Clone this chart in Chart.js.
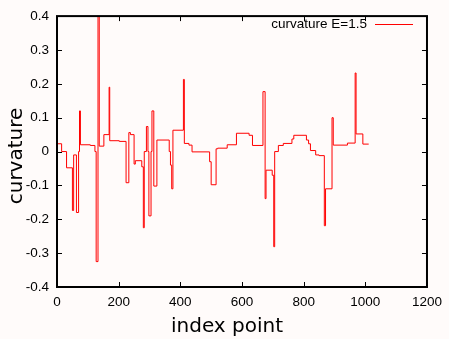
<!DOCTYPE html>
<html>
<head>
<meta charset="utf-8">
<script src="https://cdn.jsdelivr.net/npm/chart.js@4.4.0/dist/chart.umd.min.js"></script>
<style>
  html, body { margin: 0; padding: 0; background: #fffbfa; }
  #c { display: block; }
</style>
</head>
<body>
<canvas id="c" width="449" height="339"></canvas>
<script>
// step starts (index point) and the curvature level held from there
const indexPoints = [0, 15, 31, 50, 54, 63, 70, 73, 76, 108, 123, 127, 133, 137, 152, 169, 171, 202, 224, 233,
  238, 250, 254, 275, 280, 283, 290, 295, 298, 305, 308, 314, 324, 364, 368, 372, 376, 410, 413, 428,
  438, 495, 500, 516, 521, 552, 582, 623, 634, 668, 675, 678, 698, 703, 706, 718, 734, 762, 768, 809,
  816, 822, 839, 850, 867, 871, 892, 896, 942, 967, 970, 992, 1011];
const curvature = [0.023, 0, -0.048, -0.174, -0.01, -0.18, 0, 0.12, 0.02, 0.018, 0, -0.325, 0.45, 0.016, 0.05, 0.19, 0.032, 0.03, -0.092, 0.056,
  0.05, -0.037, -0.027, -0.045, -0.225, 0, 0.074, 0, -0.19, 0, 0.12, -0.102, 0.034, 0, -0.04, -0.11, 0.063, 0.213, 0.024, 0.019,
  -0.001, -0.03, -0.098, 0.008, 0.01, 0.02, 0.054, 0.048, 0.018, 0.177, -0.139, -0.055, -0.07, -0.281, 0, 0.018, 0.024, 0.037, 0.048, 0.034,
  0.023, 0.003, -0.01, -0.012, -0.219, -0.11, 0.1, 0.019, 0.025, 0.232, 0.052, 0.022, 0.022];
const xTicks = [0, 200, 400, 600, 800, 1000, 1200];
const yTicks = [-0.4, -0.3, -0.2, -0.1, 0, 0.1, 0.2, 0.3, 0.4];
const seriesLabel = 'curvature E=1.5';

const tickFont = '13.5px "Liberation Sans", Arial, sans-serif';

const frame = {
  id: 'frame',
  beforeDraw(chart) {
    const ctx = chart.ctx;
    ctx.save();
    ctx.fillStyle = '#fffbfa';
    ctx.fillRect(0, 0, chart.width, chart.height);
    ctx.restore();
  },
  afterDraw(chart) {
    const ctx = chart.ctx;
    const a = chart.chartArea;
    const xs = chart.scales.x, ys = chart.scales.y;
    ctx.save();
    ctx.strokeStyle = '#000';
    ctx.lineWidth = 1;
    ctx.beginPath();
    xTicks.forEach(v => {
      const px = Math.round(xs.getPixelForValue(v)) + 0.5;
      ctx.moveTo(px, a.bottom); ctx.lineTo(px, a.bottom - 5);
      ctx.moveTo(px, a.top); ctx.lineTo(px, a.top + 5);
    });
    yTicks.forEach(v => {
      const py = Math.round(ys.getPixelForValue(v)) + 0.5;
      ctx.moveTo(a.left, py); ctx.lineTo(a.left + 5, py);
      ctx.moveTo(a.right, py); ctx.lineTo(a.right - 5, py);
    });
    ctx.stroke();
    ctx.lineWidth = 2;
    ctx.strokeRect(a.left, a.top, a.right - a.left, a.bottom - a.top);

    // key
    ctx.fillStyle = '#000';
    ctx.font = tickFont;
    ctx.textAlign = 'right';
    ctx.textBaseline = 'middle';
    ctx.fillText(seriesLabel, 367, 24);
    ctx.strokeStyle = '#ff0000';
    ctx.lineWidth = 1;
    ctx.beginPath();
    ctx.moveTo(375, 24.5); ctx.lineTo(413, 24.5);
    ctx.stroke();

    // axis titles
    ctx.fillStyle = '#000';
    ctx.font = '20px "DejaVu Sans", sans-serif';
    ctx.textAlign = 'center';
    ctx.textBaseline = 'alphabetic';
    ctx.fillText('index point', 227, 332);
    ctx.translate(22, 156);
    ctx.rotate(-Math.PI / 2);
    ctx.fillText('curvature', 0, 0);
    ctx.restore();
  }
};

new Chart(document.getElementById('c'), {
  type: 'line',
  data: {
    datasets: [{
      label: seriesLabel,
      data: indexPoints.map((x, i) => ({ x: x, y: curvature[i] })),
      borderColor: '#ff0000',
      borderWidth: 1,
      pointRadius: 0,
      stepped: true,
      fill: false
    }]
  },
  options: {
    responsive: false,
    animation: false,
    layout: { padding: { top: 14, right: 19, left: 0, bottom: 0 } },
    plugins: { legend: { display: false }, tooltip: { enabled: false } },
    scales: {
      x: {
        type: 'linear', min: 0, max: 1200,
        afterBuildTicks: s => { s.ticks = xTicks.map(v => ({ value: v })); },
        afterFit: s => { s.height = 52; },
        grid: { display: false, drawTicks: false },
        border: { display: false },
        ticks: {
          color: '#000', font: { family: '"Liberation Sans", Arial, sans-serif', size: 13.5 }, padding: 7, maxRotation: 0,
          callback: v => String(v)
        }
      },
      y: {
        min: -0.4, max: 0.4,
        afterBuildTicks: s => { s.ticks = yTicks.map(v => ({ value: v })); },
        afterFit: s => { s.width = 57; },
        grid: { display: false, drawTicks: false },
        border: { display: false },
        ticks: {
          color: '#000', font: { family: '"Liberation Sans", Arial, sans-serif', size: 13.5 }, padding: 8,
          callback: v => String(Number(v.toFixed(1)))
        }
      }
    }
  },
  plugins: [frame]
});
</script>
</body>
</html>
